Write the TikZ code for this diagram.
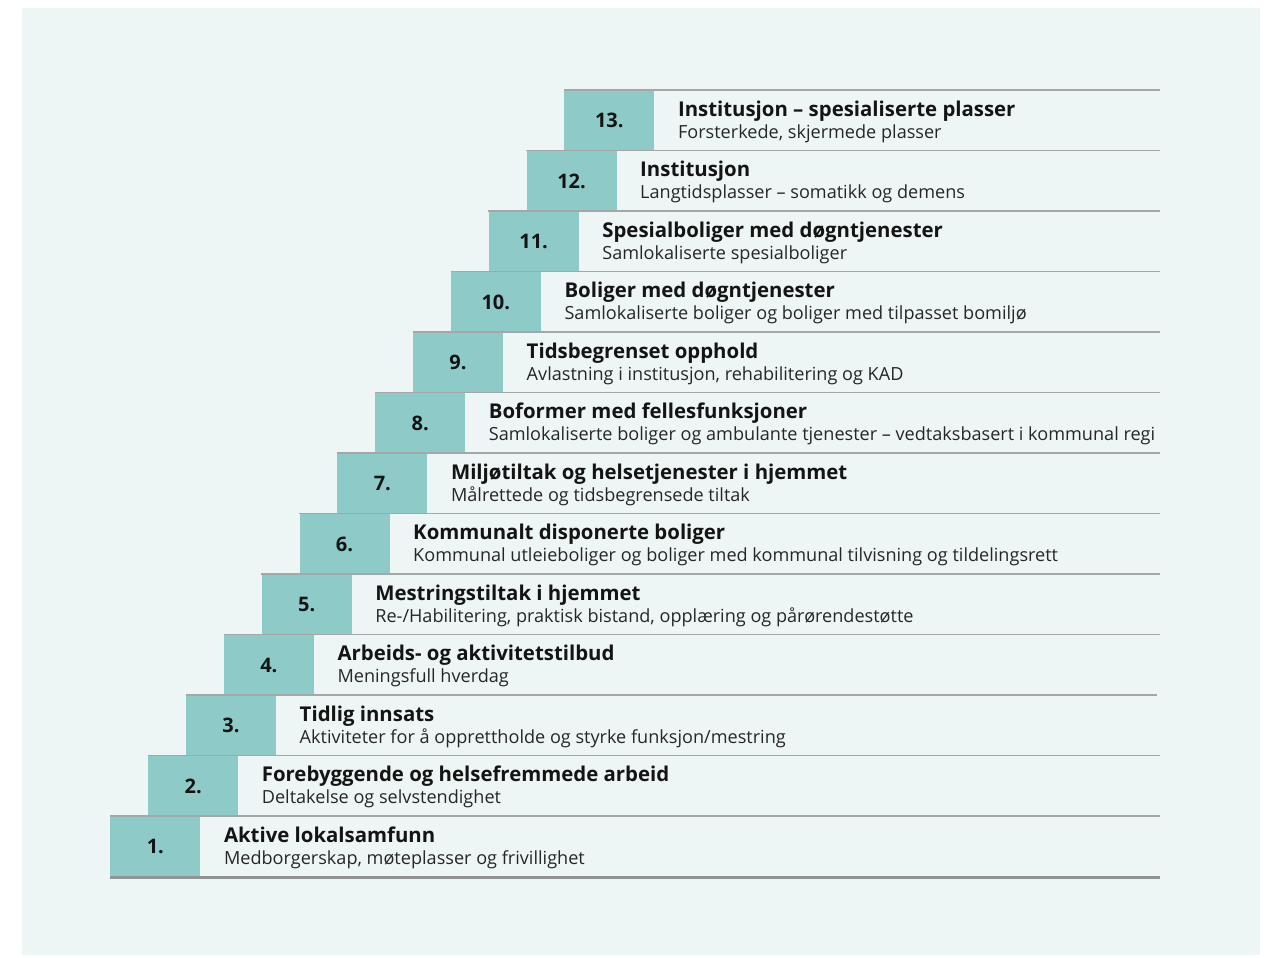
\documentclass[tikz,border=0pt]{standalone}
\usepackage{fontspec}
\setmainfont{Open Sans}
\usetikzlibrary{calc}
\definecolor{panel}{HTML}{EEF6F5}
\definecolor{stepfill}{HTML}{8ECBC8}
\definecolor{rowrule}{HTML}{A4A7A7}
\definecolor{baserule}{HTML}{929494}
\definecolor{titletext}{HTML}{141414}
\definecolor{subtext}{HTML}{262626}

\begin{document}
\begin{tikzpicture}[x=0.02cm,y=-0.02cm,
  box/.style={anchor=north west,fill=stepfill,minimum width=1.8cm,minimum height=1.21cm,inner sep=0pt,font=\fontsize{11.4}{14}\selectfont\bfseries,text=titletext},
  title/.style={anchor=base west,inner sep=0pt,font=\fontsize{11.6}{14}\selectfont\bfseries,text=titletext},
  sub/.style={anchor=base west,inner sep=0pt,font=\fontsize{10.3}{12}\selectfont,text=subtext},
  rowline/.style={draw=rowrule,line width=0.9pt}]
\useasboundingbox (0,0) rectangle (1268,957);
\fill[panel] (22,8) rectangle (1260,955);
\coordinate (R) at (1160,0);
% steps
\node[box] (b1) at (110,816) {1.};
\node[box] (b2) at (147.8,755.5) {2.};
\node[box] (b3) at (185.7,695) {3.};
\node[box] (b4) at (223.5,634.5) {4.};
\node[box] (b5) at (261.3,574) {5.};
\node[box] (b6) at (299.2,513.5) {6.};
\node[box] (b7) at (337,453) {7.};
\node[box] (b8) at (374.8,392.5) {8.};
\node[box] (b9) at (412.7,332) {9.};
\node[box] (b10) at (450.5,271.5) {10.};
\node[box] (b11) at (488.3,211) {11.};
\node[box] (b12) at (526.2,150.5) {12.};
\node[box] (b13) at (564,90) {13.};
% titles
\node[title] (t1) at ($(b1.north east)+(23,26)$) {Aktive lokalsamfunn};
\node[title] (t2) at ($(b2.north east)+(23,26)$) {Forebyggende og helsefremmede arbeid};
\node[title] (t3) at ($(b3.north east)+(23,26)$) {Tidlig innsats};
\node[title] (t4) at ($(b4.north east)+(23,26)$) {Arbeids- og aktivitetstilbud};
\node[title] (t5) at ($(b5.north east)+(23,26)$) {Mestringstiltak i hjemmet};
\node[title] (t6) at ($(b6.north east)+(23,26)$) {Kommunalt disponerte boliger};
\node[title] (t7) at ($(b7.north east)+(23,26)$) {Miljøtiltak og helsetjenester i hjemmet};
\node[title] (t8) at ($(b8.north east)+(23,26)$) {Boformer med fellesfunksjoner};
\node[title] (t9) at ($(b9.north east)+(23,26)$) {Tidsbegrenset opphold};
\node[title] (t10) at ($(b10.north east)+(23,26)$) {Boliger med døgntjenester};
\node[title] (t11) at ($(b11.north east)+(23,26)$) {Spesialboliger med døgntjenester};
\node[title] (t12) at ($(b12.north east)+(23,26)$) {Institusjon};
\node[title] (t13) at ($(b13.north east)+(23,26)$) {Institusjon – spesialiserte plasser};
% subtitles
\node[sub] (d1) at ($(t1.base west)+(0,22)$) {Medborgerskap, møteplasser og frivillighet};
\node[sub] (d2) at ($(t2.base west)+(0,22)$) {Deltakelse og selvstendighet};
\node[sub] (d3) at ($(t3.base west)+(0,22)$) {Aktiviteter for å opprettholde og styrke funksjon/mestring};
\node[sub] (d4) at ($(t4.base west)+(0,22)$) {Meningsfull hverdag};
\node[sub] (d5) at ($(t5.base west)+(0,22)$) {Re-/Habilitering, praktisk bistand, opplæring og pårørendestøtte};
\node[sub] (d6) at ($(t6.base west)+(0,22)$) {Kommunal utleieboliger og boliger med kommunal tilvisning og tildelingsrett};
\node[sub] (d7) at ($(t7.base west)+(0,22)$) {Målrettede og tidsbegrensede tiltak};
\node[sub] (d8) at ($(t8.base west)+(0,22)$) {Samlokaliserte boliger og ambulante tjenester – vedtaksbasert i kommunal regi};
\node[sub] (d9) at ($(t9.base west)+(0,22)$) {Avlastning i institusjon, rehabilitering og KAD};
\node[sub] (d10) at ($(t10.base west)+(0,22)$) {Samlokaliserte boliger og boliger med tilpasset bomiljø};
\node[sub] (d11) at ($(t11.base west)+(0,22)$) {Samlokaliserte spesialboliger};
\node[sub] (d12) at ($(t12.base west)+(0,22)$) {Langtidsplasser – somatikk og demens};
\node[sub] (d13) at ($(t13.base west)+(0,22)$) {Forsterkede, skjermede plasser};
% row rules
\draw[rowline] (b1.north west) -- (b1.north west -| R);
\draw[rowline] (b2.north west) -- (b2.north west -| R);
\draw[rowline] (b3.north west) -- ($(b3.north west -| R)+(-3,0)$);
\draw[rowline] (b4.north west) -- (b4.north west -| R);
\draw[rowline] (b5.north west) -- (b5.north west -| R);
\draw[rowline] (b6.north west) -- (b6.north west -| R);
\draw[rowline] (b7.north west) -- (b7.north west -| R);
\draw[rowline] (b8.north west) -- (b8.north west -| R);
\draw[rowline] (b9.north west) -- (b9.north west -| R);
\draw[rowline] (b10.north west) -- (b10.north west -| R);
\draw[rowline] (b11.north west) -- (b11.north west -| R);
\draw[rowline] (b12.north west) -- (b12.north west -| R);
\draw[rowline] (b13.north west) -- (b13.north west -| R);
\draw[draw=baserule,line width=1.7pt] (b1.south west) -- (b1.south west -| R);
\end{tikzpicture}
\end{document}
